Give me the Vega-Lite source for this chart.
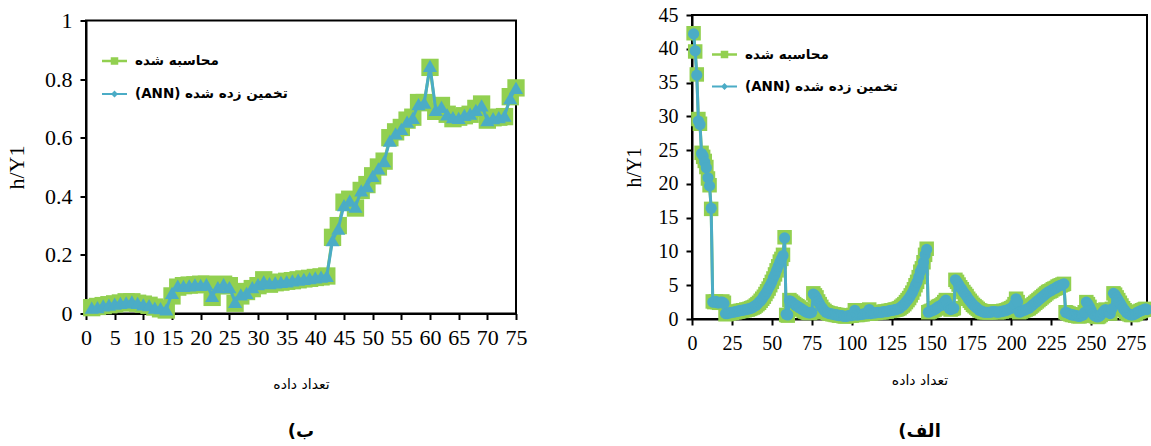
{
  "$schema": "https://vega.github.io/schema/vega-lite/v6.json",
  "background": "white",
  "padding": {"left": 4, "top": 4, "right": 0, "bottom": 0},
  "spacing": 176,
  "bounds": "flush",
  "center": true,
  "resolve": {"scale": {"color": "independent"}, "legend": {"color": "independent"}},
  "config": {
    "view": {"stroke": "black", "strokeWidth": 2},
    "axis": {"grid": false, "domainColor": "black", "domainWidth": 2, "tickColor": "black", "tickWidth": 2, "tickSize": 6, "labelColor": "black", "labelFont": "Liberation Serif", "titleFont": "Liberation Serif", "titleColor": "black", "titleFontWeight": "normal", "labelFlush": false, "labelOverlap": false},
    "legend": {"labelFont": "DejaVu Sans", "labelFontWeight": "bold", "labelFontSize": 13.5, "labelColor": "black", "symbolStrokeWidth": 0, "labelOffset": 8},
    "title": {"font": "DejaVu Sans", "fontSize": 18, "fontWeight": "bold", "color": "black"}
  },
  "hconcat": [
    {
      "width": 430,
      "height": 293,
      "title": {"text": "(ب", "orient": "bottom", "offset": 31},
      "data": {"values": [
        {"x":1,"m":0.02,"a":0.02},{"x":2,"m":0.024,"a":0.022},{"x":3,"m":0.027,"a":0.028},{"x":4,"m":0.03,"a":0.03},{"x":5,"m":0.033,"a":0.034},
        {"x":6,"m":0.036,"a":0.036},{"x":7,"m":0.04,"a":0.038},{"x":8,"m":0.04,"a":0.041},{"x":9,"m":0.035,"a":0.036},{"x":10,"m":0.032,"a":0.031},
        {"x":11,"m":0.028,"a":0.029},{"x":12,"m":0.022,"a":0.02},{"x":13,"m":0.016,"a":0.018},{"x":14,"m":0.012,"a":0.014},{"x":15,"m":0.06,"a":0.07},
        {"x":16,"m":0.09,"a":0.095},{"x":17,"m":0.095,"a":0.094},{"x":18,"m":0.097,"a":0.096},{"x":19,"m":0.098,"a":0.099},{"x":20,"m":0.1,"a":0.098},
        {"x":21,"m":0.1,"a":0.1},{"x":22,"m":0.055,"a":0.06},{"x":23,"m":0.095,"a":0.09},{"x":24,"m":0.1,"a":0.1},{"x":25,"m":0.095,"a":0.09},
        {"x":26,"m":0.035,"a":0.04},{"x":27,"m":0.06,"a":0.065},{"x":28,"m":0.075,"a":0.07},{"x":29,"m":0.085,"a":0.09},{"x":30,"m":0.095,"a":0.1},
        {"x":31,"m":0.115,"a":0.11},{"x":32,"m":0.1,"a":0.104},{"x":33,"m":0.105,"a":0.106},{"x":34,"m":0.107,"a":0.108},{"x":35,"m":0.11,"a":0.11},
        {"x":36,"m":0.112,"a":0.113},{"x":37,"m":0.115,"a":0.116},{"x":38,"m":0.118,"a":0.118},{"x":39,"m":0.12,"a":0.121},{"x":40,"m":0.123,"a":0.123},
        {"x":41,"m":0.125,"a":0.126},{"x":42,"m":0.128,"a":0.128},{"x":43,"m":0.26,"a":0.25},{"x":44,"m":0.3,"a":0.29},{"x":45,"m":0.38,"a":0.37},
        {"x":46,"m":0.39,"a":0.385},{"x":47,"m":0.36,"a":0.365},{"x":48,"m":0.42,"a":0.42},{"x":49,"m":0.44,"a":0.435},{"x":50,"m":0.47,"a":0.47},
        {"x":51,"m":0.5,"a":0.495},{"x":52,"m":0.52,"a":0.52},{"x":53,"m":0.6,"a":0.59},{"x":54,"m":0.62,"a":0.615},{"x":55,"m":0.635,"a":0.63},
        {"x":56,"m":0.66,"a":0.655},{"x":57,"m":0.67,"a":0.668},{"x":58,"m":0.72,"a":0.715},{"x":59,"m":0.72,"a":0.72},{"x":60,"m":0.84,"a":0.845},
        {"x":61,"m":0.69,"a":0.695},{"x":62,"m":0.71,"a":0.705},{"x":63,"m":0.68,"a":0.68},{"x":64,"m":0.665,"a":0.67},{"x":65,"m":0.67,"a":0.668},
        {"x":66,"m":0.675,"a":0.678},{"x":67,"m":0.68,"a":0.682},{"x":68,"m":0.7,"a":0.695},{"x":69,"m":0.715,"a":0.71},{"x":70,"m":0.66,"a":0.66},
        {"x":71,"m":0.668,"a":0.667},{"x":72,"m":0.67,"a":0.67},{"x":73,"m":0.672,"a":0.675},{"x":74,"m":0.74,"a":0.735},{"x":75,"m":0.77,"a":0.77}
      ]},
      "transform": [{"fold": ["m", "a"], "as": ["k", "v"]}],
      "encoding": {
        "x": {"field": "x", "type": "quantitative", "scale": {"domain": [0, 75], "nice": false},
          "axis": {"values": [0,5,10,15,20,25,30,35,40,45,50,55,60,65,70,75], "labelFontSize": 22, "labelPadding": 8, "title": "تعداد داده", "titleFont": "DejaVu Sans", "titleFontSize": 14, "titlePadding": 29}},
        "y": {"field": "v", "type": "quantitative", "scale": {"domain": [0, 1], "nice": false},
          "axis": {"values": [0,0.2,0.4,0.6,0.8,1], "format": "~g", "labelFontSize": 22, "labelPadding": 8, "title": "h/Y1", "titleFontSize": 22, "titlePadding": 16}}
      },
      "layer": [
        {"transform": [{"filter": "datum.k === 'm'"}], "mark": {"type": "line", "strokeWidth": 3},
          "encoding": {"color": {"datum": "محاسبه شده", "type": "nominal", "scale": {"domain": ["محاسبه شده", "(ANN) تخمین زده شده"], "range": ["#92D050", "#4BACC6"]},
            "legend": {"orient": "none", "legendX": 16, "legendY": 28, "title": null, "symbolSize": 625, "rowPadding": 14,
              "encode": {"symbols": {"update": {"shape": {"signal": "datum.value === 'محاسبه شده' ? 'M-1,-0.1H1V0.1H-1Z M-0.3,-0.3H0.3V0.3H-0.3Z' : 'M-1,-0.08H1V0.08H-1Z M0,-0.28L0.28,0L0,0.28L-0.28,0Z'"}, "fill": {"signal": "datum.value === 'محاسبه شده' ? '#78B83C' : '#4A7EC8'"}, "strokeWidth": {"value": 0}}}}}}}},
        {"transform": [{"filter": "datum.k === 'm'"}], "mark": {"type": "point", "shape": "square", "filled": true, "size": 300, "opacity": 1},
          "encoding": {"color": {"datum": "محاسبه شده", "type": "nominal"}}},
        {"transform": [{"filter": "datum.k === 'a'"}], "mark": {"type": "line", "strokeWidth": 3},
          "encoding": {"color": {"datum": "(ANN) تخمین زده شده", "type": "nominal"}}},
        {"transform": [{"filter": "datum.k === 'a'"}], "mark": {"type": "point", "shape": "triangle-up", "filled": true, "size": 200, "opacity": 1},
          "encoding": {"color": {"datum": "(ANN) تخمین زده شده", "type": "nominal"}}}
      ]
    },
    {
      "width": 455,
      "height": 304,
      "title": {"text": "(الف", "orient": "bottom", "offset": 36},
      "data": {"values": [
        {"x":1,"m":42.3,"a":42.2},{"x":2,"m":39.6,"a":39.7},{"x":3,"m":36.2,"a":36.1},{"x":4,"m":29.6,"a":29.3},{"x":5,"m":28.9,"a":28.8},
        {"x":6,"m":24.6,"a":24.5},{"x":7,"m":24.0,"a":24.1},{"x":8,"m":23.4,"a":23.2},{"x":9,"m":22.5,"a":22.4},{"x":10,"m":20.8,"a":20.9},
        {"x":11,"m":19.8,"a":19.7},{"x":12,"m":16.3,"a":16.4},{"x":13,"m":2.6,"a":2.5},{"x":14,"m":2.5,"a":2.5},{"x":15,"m":2.6,"a":2.6},
        {"x":16,"m":2.5,"a":2.4},{"x":17,"m":2.4,"a":2.4},{"x":18,"m":2.5,"a":2.5},{"x":19,"m":2.6,"a":2.5},{"x":20,"m":2.4,"a":2.3},
        {"x":21,"m":0.7,"a":0.8},{"x":22,"m":0.8,"a":0.8},{"x":23,"m":0.8,"a":0.9},{"x":24,"m":0.9,"a":0.9},{"x":25,"m":0.9,"a":1.0},
        {"x":26,"m":1.0,"a":1.0},{"x":27,"m":1.0,"a":1.1},{"x":28,"m":1.1,"a":1.1},{"x":29,"m":1.1,"a":1.2},{"x":30,"m":1.2,"a":1.2},
        {"x":31,"m":1.2,"a":1.3},{"x":32,"m":1.3,"a":1.3},{"x":33,"m":1.3,"a":1.4},{"x":34,"m":1.4,"a":1.4},{"x":35,"m":1.4,"a":1.5},
        {"x":36,"m":1.5,"a":1.5},{"x":37,"m":1.6,"a":1.6},{"x":38,"m":1.7,"a":1.7},{"x":39,"m":1.8,"a":1.9},{"x":40,"m":2.0,"a":2.0},
        {"x":41,"m":2.2,"a":2.2},{"x":42,"m":2.4,"a":2.5},{"x":43,"m":2.7,"a":2.7},{"x":44,"m":3.0,"a":3.0},{"x":45,"m":3.3,"a":3.4},
        {"x":46,"m":3.7,"a":3.7},{"x":47,"m":4.1,"a":4.1},{"x":48,"m":4.5,"a":4.6},{"x":49,"m":5.0,"a":5.0},{"x":50,"m":5.5,"a":5.5},
        {"x":51,"m":6.0,"a":6.1},{"x":52,"m":6.6,"a":6.6},{"x":53,"m":7.2,"a":7.2},{"x":54,"m":7.8,"a":7.8},{"x":55,"m":8.5,"a":8.4},
        {"x":56,"m":8.9,"a":8.9},{"x":57,"m":9.5,"a":9.4},{"x":58,"m":12.1,"a":12.0},{"x":59,"m":0.6,"a":0.7},{"x":60,"m":0.5,"a":0.6},
        {"x":61,"m":2.8,"a":2.7},{"x":62,"m":2.6,"a":2.6},{"x":63,"m":2.4,"a":2.4},{"x":64,"m":2.2,"a":2.2},{"x":65,"m":2.0,"a":2.0},
        {"x":66,"m":1.9,"a":1.9},{"x":67,"m":1.7,"a":1.7},{"x":68,"m":1.5,"a":1.6},{"x":69,"m":1.4,"a":1.4},{"x":70,"m":1.2,"a":1.3},
        {"x":71,"m":1.1,"a":1.1},{"x":72,"m":1.0,"a":1.0},{"x":73,"m":0.9,"a":0.9},{"x":74,"m":0.9,"a":0.9},{"x":75,"m":1.0,"a":1.0},
        {"x":76,"m":3.8,"a":3.7},{"x":77,"m":3.5,"a":3.5},{"x":78,"m":3.2,"a":3.1},{"x":79,"m":2.6,"a":2.6},{"x":80,"m":2.2,"a":2.2},
        {"x":81,"m":1.8,"a":1.8},{"x":82,"m":1.4,"a":1.5},{"x":83,"m":1.2,"a":1.2},{"x":84,"m":1.0,"a":1.0},{"x":85,"m":0.9,"a":0.9},
        {"x":86,"m":0.8,"a":0.8},{"x":87,"m":0.8,"a":0.8},{"x":88,"m":0.7,"a":0.7},{"x":89,"m":0.7,"a":0.7},{"x":90,"m":0.6,"a":0.6},
        {"x":91,"m":0.6,"a":0.6},{"x":92,"m":0.5,"a":0.5},{"x":93,"m":0.5,"a":0.5},{"x":94,"m":0.5,"a":0.5},{"x":95,"m":0.4,"a":0.4},
        {"x":96,"m":0.4,"a":0.4},{"x":97,"m":0.4,"a":0.4},{"x":98,"m":0.5,"a":0.5},{"x":99,"m":0.5,"a":0.5},{"x":100,"m":0.5,"a":0.5},
        {"x":101,"m":0.6,"a":0.6},{"x":102,"m":1.3,"a":1.3},{"x":103,"m":0.6,"a":0.6},{"x":104,"m":0.6,"a":0.6},{"x":105,"m":0.7,"a":0.7},
        {"x":106,"m":0.7,"a":0.7},{"x":107,"m":0.7,"a":0.7},{"x":108,"m":0.8,"a":0.8},{"x":109,"m":0.8,"a":0.8},{"x":110,"m":0.8,"a":0.8},
        {"x":111,"m":1.4,"a":1.4},{"x":112,"m":0.8,"a":0.8},{"x":113,"m":0.9,"a":0.9},{"x":114,"m":0.9,"a":0.9},{"x":115,"m":0.9,"a":0.9},
        {"x":116,"m":1.0,"a":1.0},{"x":117,"m":1.0,"a":1.0},{"x":118,"m":1.0,"a":1.0},{"x":119,"m":1.0,"a":1.0},{"x":120,"m":1.1,"a":1.1},
        {"x":121,"m":1.1,"a":1.1},{"x":122,"m":1.1,"a":1.1},{"x":123,"m":1.2,"a":1.2},{"x":124,"m":1.2,"a":1.2},{"x":125,"m":1.3,"a":1.3},
        {"x":126,"m":1.3,"a":1.3},{"x":127,"m":1.4,"a":1.4},{"x":128,"m":1.4,"a":1.4},{"x":129,"m":1.5,"a":1.5},{"x":130,"m":1.6,"a":1.6},
        {"x":131,"m":1.8,"a":1.8},{"x":132,"m":2.0,"a":2.0},{"x":133,"m":2.2,"a":2.2},{"x":134,"m":2.5,"a":2.5},{"x":135,"m":2.8,"a":2.8},
        {"x":136,"m":3.1,"a":3.1},{"x":137,"m":3.5,"a":3.5},{"x":138,"m":3.9,"a":3.9},{"x":139,"m":4.4,"a":4.4},{"x":140,"m":5.0,"a":5.0},
        {"x":141,"m":5.5,"a":5.5},{"x":142,"m":6.2,"a":6.2},{"x":143,"m":7.0,"a":7.0},{"x":144,"m":7.5,"a":7.5},{"x":145,"m":8.4,"a":8.4},
        {"x":146,"m":9.5,"a":9.5},{"x":147,"m":10.4,"a":10.3},{"x":148,"m":1.0,"a":1.0},{"x":149,"m":1.1,"a":1.1},{"x":150,"m":1.2,"a":1.2},
        {"x":151,"m":1.3,"a":1.3},{"x":152,"m":1.4,"a":1.4},{"x":153,"m":1.6,"a":1.6},{"x":154,"m":1.8,"a":1.8},{"x":155,"m":1.9,"a":1.9},
        {"x":156,"m":2.0,"a":2.0},{"x":157,"m":2.2,"a":2.2},{"x":158,"m":2.5,"a":2.5},{"x":159,"m":2.8,"a":2.8},{"x":160,"m":2.3,"a":2.3},
        {"x":161,"m":1.6,"a":1.6},{"x":162,"m":1.4,"a":1.4},{"x":163,"m":1.5,"a":1.5},{"x":164,"m":1.6,"a":1.6},{"x":165,"m":5.8,"a":5.8},
        {"x":166,"m":5.5,"a":5.5},{"x":167,"m":5.1,"a":5.1},{"x":168,"m":4.7,"a":4.7},{"x":169,"m":4.4,"a":4.4},{"x":170,"m":4.0,"a":4.0},
        {"x":171,"m":3.7,"a":3.7},{"x":172,"m":3.4,"a":3.4},{"x":173,"m":3.0,"a":3.0},{"x":174,"m":2.7,"a":2.7},{"x":175,"m":2.4,"a":2.4},
        {"x":176,"m":2.1,"a":2.1},{"x":177,"m":1.9,"a":1.9},{"x":178,"m":1.7,"a":1.7},{"x":179,"m":1.5,"a":1.5},{"x":180,"m":1.3,"a":1.3},
        {"x":181,"m":1.2,"a":1.2},{"x":182,"m":1.1,"a":1.1},{"x":183,"m":1.0,"a":1.0},{"x":184,"m":1.0,"a":1.0},{"x":185,"m":1.0,"a":1.0},
        {"x":186,"m":1.0,"a":1.0},{"x":187,"m":1.0,"a":1.0},{"x":188,"m":1.1,"a":1.1},{"x":189,"m":1.1,"a":1.1},{"x":190,"m":1.1,"a":1.1},
        {"x":191,"m":1.0,"a":1.0},{"x":192,"m":1.0,"a":1.0},{"x":193,"m":1.1,"a":1.1},{"x":194,"m":1.1,"a":1.1},{"x":195,"m":1.2,"a":1.2},
        {"x":196,"m":1.2,"a":1.2},{"x":197,"m":1.3,"a":1.3},{"x":198,"m":1.4,"a":1.4},{"x":199,"m":1.5,"a":1.5},{"x":200,"m":1.6,"a":1.6},
        {"x":201,"m":1.8,"a":1.8},{"x":202,"m":2.2,"a":2.2},{"x":203,"m":3.0,"a":3.0},{"x":204,"m":2.5,"a":2.5},{"x":205,"m":1.0,"a":1.0},
        {"x":206,"m":1.1,"a":1.1},{"x":207,"m":1.2,"a":1.2},{"x":208,"m":1.3,"a":1.3},{"x":209,"m":1.4,"a":1.4},{"x":210,"m":1.5,"a":1.5},
        {"x":211,"m":1.6,"a":1.6},{"x":212,"m":1.8,"a":1.8},{"x":213,"m":2.0,"a":2.0},{"x":214,"m":2.2,"a":2.2},{"x":215,"m":2.4,"a":2.4},
        {"x":216,"m":2.6,"a":2.6},{"x":217,"m":2.8,"a":2.8},{"x":218,"m":3.0,"a":3.0},{"x":219,"m":3.2,"a":3.2},{"x":220,"m":3.4,"a":3.4},
        {"x":221,"m":3.6,"a":3.6},{"x":222,"m":3.8,"a":3.8},{"x":223,"m":4.0,"a":4.0},{"x":224,"m":4.1,"a":4.1},{"x":225,"m":4.2,"a":4.2},
        {"x":226,"m":4.4,"a":4.4},{"x":227,"m":4.5,"a":4.5},{"x":228,"m":4.6,"a":4.6},{"x":229,"m":4.8,"a":4.8},{"x":230,"m":4.9,"a":4.9},
        {"x":231,"m":5.0,"a":5.0},{"x":232,"m":5.1,"a":5.1},{"x":233,"m":5.2,"a":5.2},{"x":234,"m":1.0,"a":1.0},{"x":235,"m":0.9,"a":0.9},
        {"x":236,"m":0.8,"a":0.8},{"x":237,"m":0.7,"a":0.7},{"x":238,"m":0.6,"a":0.6},{"x":239,"m":0.6,"a":0.6},{"x":240,"m":0.5,"a":0.5},
        {"x":241,"m":0.5,"a":0.5},{"x":242,"m":0.4,"a":0.4},{"x":243,"m":0.4,"a":0.4},{"x":244,"m":0.5,"a":0.5},{"x":245,"m":0.6,"a":0.6},
        {"x":246,"m":1.0,"a":1.0},{"x":247,"m":2.5,"a":2.5},{"x":248,"m":2.2,"a":2.2},{"x":249,"m":1.8,"a":1.8},{"x":250,"m":1.3,"a":1.3},
        {"x":251,"m":0.8,"a":0.8},{"x":252,"m":0.5,"a":0.5},{"x":253,"m":0.4,"a":0.4},{"x":254,"m":0.3,"a":0.3},{"x":255,"m":0.4,"a":0.4},
        {"x":256,"m":0.6,"a":0.6},{"x":257,"m":0.9,"a":0.9},{"x":258,"m":1.2,"a":1.2},{"x":259,"m":1.4,"a":1.4},{"x":260,"m":1.2,"a":1.2},
        {"x":261,"m":1.0,"a":1.0},{"x":262,"m":0.8,"a":0.8},{"x":263,"m":1.5,"a":1.5},{"x":264,"m":3.8,"a":3.8},{"x":265,"m":3.6,"a":3.6},
        {"x":266,"m":3.2,"a":3.2},{"x":267,"m":2.8,"a":2.8},{"x":268,"m":2.4,"a":2.4},{"x":269,"m":2.0,"a":2.0},{"x":270,"m":1.6,"a":1.6},
        {"x":271,"m":1.3,"a":1.3},{"x":272,"m":1.0,"a":1.0},{"x":273,"m":0.8,"a":0.8},{"x":274,"m":0.7,"a":0.7},{"x":275,"m":0.6,"a":0.6},
        {"x":276,"m":0.6,"a":0.6},{"x":277,"m":0.7,"a":0.7},{"x":278,"m":0.8,"a":0.8},{"x":279,"m":1.0,"a":1.0},{"x":280,"m":1.1,"a":1.1},
        {"x":281,"m":1.2,"a":1.2},{"x":282,"m":1.3,"a":1.3},{"x":283,"m":1.4,"a":1.4},{"x":284,"m":1.5,"a":1.5},{"x":285,"m":1.4,"a":1.4}
      ]},
      "transform": [{"fold": ["m", "a"], "as": ["k", "v"]}],
      "encoding": {
        "x": {"field": "x", "type": "quantitative", "scale": {"domain": [0, 285], "nice": false},
          "axis": {"values": [0,25,50,75,100,125,150,175,200,225,250,275], "labelFontSize": 20, "labelPadding": 8, "title": "تعداد داده", "titleFont": "DejaVu Sans", "titleFontSize": 14, "titlePadding": 20}},
        "y": {"field": "v", "type": "quantitative", "scale": {"domain": [0, 45], "nice": false},
          "axis": {"values": [0,5,10,15,20,25,30,35,40,45], "labelFontSize": 20, "labelPadding": 8, "title": "h/Y1", "titleFontSize": 20, "titlePadding": 14}}
      },
      "layer": [
        {"transform": [{"filter": "datum.k === 'm'"}], "mark": {"type": "line", "strokeWidth": 3},
          "encoding": {"color": {"datum": "محاسبه شده", "type": "nominal", "scale": {"domain": ["محاسبه شده", "(ANN) تخمین زده شده"], "range": ["#92D050", "#4BACC6"]},
            "legend": {"orient": "none", "legendX": 20, "legendY": 27, "title": null, "symbolSize": 625, "rowPadding": 13,
              "encode": {"symbols": {"update": {"shape": {"signal": "datum.value === 'محاسبه شده' ? 'M-1,-0.1H1V0.1H-1Z M-0.3,-0.3H0.3V0.3H-0.3Z' : 'M-1,-0.08H1V0.08H-1Z M0,-0.28L0.28,0L0,0.28L-0.28,0Z'"}, "fill": {"signal": "datum.value === 'محاسبه شده' ? '#78B83C' : '#4A7EC8'"}, "strokeWidth": {"value": 0}}}}}}}},
        {"transform": [{"filter": "datum.k === 'm'"}], "mark": {"type": "point", "shape": "square", "filled": true, "size": 210, "opacity": 1},
          "encoding": {"color": {"datum": "محاسبه شده", "type": "nominal"}}},
        {"transform": [{"filter": "datum.k === 'a'"}], "mark": {"type": "line", "strokeWidth": 3},
          "encoding": {"color": {"datum": "(ANN) تخمین زده شده", "type": "nominal"}}},
        {"transform": [{"filter": "datum.k === 'a'"}], "mark": {"type": "point", "shape": "circle", "filled": true, "size": 125, "opacity": 1},
          "encoding": {"color": {"datum": "(ANN) تخمین زده شده", "type": "nominal"}}}
      ]
    }
  ]
}
